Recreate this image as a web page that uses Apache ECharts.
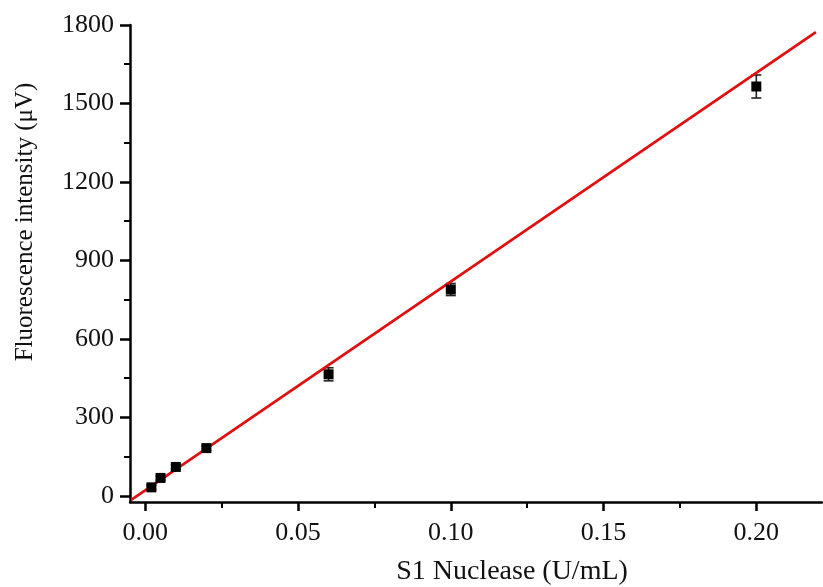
<!DOCTYPE html>
<html>
<head>
<meta charset="utf-8">
<script src="https://cdn.jsdelivr.net/npm/echarts@6/dist/echarts.min.js"></script>
<style>
  html, body { margin: 0; padding: 0; background: #fff; }
  #chart { width: 823px; height: 587px; }
</style>
</head>
<body>
<div id="chart"></div>
<script>
// data
const concX = [0.002, 0.005, 0.01, 0.02, 0.06, 0.10, 0.20]
const intensity = [33, 69, 111, 183, 465, 789, 1565]
const errBar = [8, 8, 8, 8, 25, 23, 44]
const fitX = [-0.0046, 0.2195]
const fitY = [-15, 1773]
const xTicks = [0, 0.05, 0.10, 0.15, 0.20]
const xMinor = [0.025, 0.075, 0.125, 0.175]
const yTicks = [0, 300, 600, 900, 1200, 1500, 1800]
const yMinor = [150, 450, 750, 1050, 1350, 1650]

const chart = echarts.init(document.getElementById('chart'))

const font = 'Liberation Serif'
const xRange = { min: -0.005, max: 0.2215 }
const yRange = { min: -23, max: 1800 }

const points = concX.map((x, i) => [x, intensity[i], errBar[i]])

const hiddenAxis = {
  axisLabel: { show: false },
  splitLine: { show: false }
}

const option = {
  animation: false,
  grid: { left: 130, right: 1, top: 25, bottom: 85 },
  // axis titles
  graphic: [
    {
      type: 'text',
      x: 512, y: 572,
      style: {
        text: 'S1 Nuclease (U/mL)',
        font: '28px "Liberation Serif"',
        fill: '#111',
        textAlign: 'center',
        textVerticalAlign: 'middle'
      }
    },
    {
      type: 'text',
      x: 25, y: 222,
      rotation: Math.PI / 2,
      style: {
        text: 'Fluorescence intensity (\u03bcV)',
        font: '25px "Liberation Serif"',
        fill: '#111',
        textAlign: 'center',
        textVerticalAlign: 'middle'
      }
    }
  ],
  xAxis: [
    {
      type: 'value',
      ...xRange,
      axisLine: { onZero: false, lineStyle: { color: '#000', width: 2.5 } },
      axisTick: { customValues: xTicks, length: 9, lineStyle: { color: '#000', width: 2.5 } },
      axisLabel: {
        customValues: xTicks,
        margin: 18,
        fontFamily: font, fontSize: 26, color: '#111',
        formatter: v => v.toFixed(2)
      },
      splitLine: { show: false }
    },
    {
      type: 'value',
      ...xRange,
      position: 'bottom',
      ...hiddenAxis,
      axisLine: { show: false, onZero: false },
      axisTick: { customValues: xMinor, length: 6, lineStyle: { color: '#000', width: 2 } }
    }
  ],
  yAxis: [
    {
      type: 'value',
      ...yRange,
      axisLine: { onZero: false, lineStyle: { color: '#000', width: 2.5 } },
      axisTick: { customValues: yTicks, length: 10, lineStyle: { color: '#000', width: 2.5 } },
      axisLabel: {
        customValues: yTicks,
        margin: 16,
        fontFamily: font, fontSize: 26, color: '#111',
        formatter: v => String(v)
      },
      splitLine: { show: false }
    },
    {
      type: 'value',
      ...yRange,
      position: 'left',
      ...hiddenAxis,
      axisLine: { show: false, onZero: false },
      axisTick: { customValues: yMinor, length: 6, lineStyle: { color: '#000', width: 2 } }
    }
  ],
  series: [
    {
      name: 'fit',
      type: 'line',
      data: fitX.map((x, i) => [x, fitY[i]]),
      symbol: 'none',
      clip: false,
      lineStyle: { color: '#e01010', width: 2.8 },
      z: 3
    },
    {
      name: 'error',
      type: 'custom',
      data: points,
      renderItem: (params, api) => {
        const x = api.value(0)
        const y = api.value(1)
        const e = api.value(2)
        const top = api.coord([x, y + e])
        const bot = api.coord([x, y - e])
        const w = 5
        const style = { stroke: '#222', lineWidth: 1.6 }
        return {
          type: 'group',
          children: [
            { type: 'line', shape: { x1: top[0], y1: top[1], x2: bot[0], y2: bot[1] }, style },
            { type: 'line', shape: { x1: top[0] - w, y1: top[1], x2: top[0] + w, y2: top[1] }, style },
            { type: 'line', shape: { x1: bot[0] - w, y1: bot[1], x2: bot[0] + w, y2: bot[1] }, style }
          ]
        }
      },
      z: 2
    },
    {
      name: 'data',
      type: 'scatter',
      data: points,
      symbol: 'rect',
      symbolSize: 10,
      itemStyle: { color: '#000', opacity: 1 },
      z: 4
    }
  ]
}

chart.setOption(option)
</script>
</body>
</html>
